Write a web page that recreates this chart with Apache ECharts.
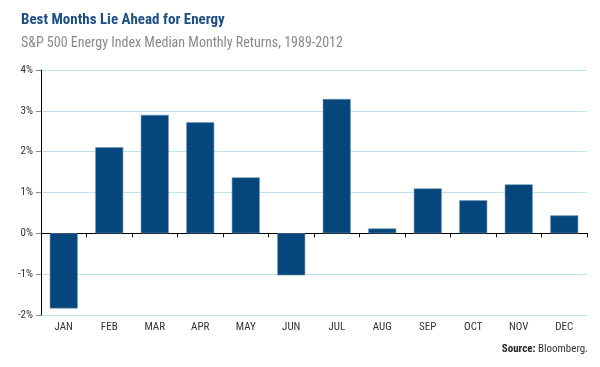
<!DOCTYPE html>
<html><head><meta charset="utf-8">
<script src="https://cdn.jsdelivr.net/npm/echarts@6/dist/echarts.min.js"></script>
<style>html,body{margin:0;padding:0;background:#fff}#c{width:600px;height:367px}</style>
</head><body><div id="c"></div>
<script>
const categories = ['JAN','FEB','MAR','APR','MAY','JUN','JUL','AUG','SEP','OCT','NOV','DEC'];
const values = [-1.84, 2.11, 2.9, 2.72, 1.37, -1.03, 3.29, 0.12, 1.1, 0.81, 1.2, 0.44];
const yTicks = {min: -2, max: 4, interval: 1};
const FONT = '"Liberation Sans Narrow","Roboto Condensed","Liberation Sans",Arial,sans-serif';
const chart = echarts.init(document.getElementById('c'));
chart.setOption({
  animation: false,
  textStyle: {fontFamily: FONT},
  title: [
    {text: 'Best Months Lie Ahead for Energy', left: 16, top: 8,
     textStyle: {fontSize: 15, fontWeight: 'bold', color: '#1b4f86', fontFamily: FONT}},
    {text: 'S&P 500 Energy Index Median Monthly Returns, 1989-2012', left: 16, top: 31,
     textStyle: {fontSize: 14, fontWeight: 'normal', color: '#8a8a8a', fontFamily: FONT}}
  ],
  grid: {left: 41, right: 13, top: 70, bottom: 52, containLabel: false},
  xAxis: [
    {type: 'category', data: categories, position: 'bottom',
     axisLine: {onZero: true, lineStyle: {color: '#000', width: 1}},
     axisTick: {show: true, length: 4, lineStyle: {color: '#000'}},
     axisLabel: {show: false}, splitLine: {show: false}},
    {type: 'category', data: categories, position: 'bottom',
     axisLine: {show: false, onZero: false}, axisTick: {show: false},
     axisLabel: {show: true, color: '#333', fontSize: 11, margin: 7, fontFamily: FONT},
     splitLine: {show: false}}
  ],
  yAxis: {
    type: 'value', min: yTicks.min, max: yTicks.max, interval: yTicks.interval,
    axisLine: {show: true, lineStyle: {color: '#000'}},
    axisTick: {show: true, length: 5, lineStyle: {color: '#888'}},
    axisLabel: {formatter: '{value}%', color: '#333', fontSize: 11, margin: 8, fontFamily: FONT},
    splitLine: {show: true, lineStyle: {color: '#bfe3ec', width: 1}}
  },
  series: [{
    type: 'bar', xAxisIndex: 0, data: values, barWidth: 28,
    itemStyle: {color: '#05477d', borderColor: '#6f93b3', borderWidth: 0.6}
  }],
  graphic: [{
    type: 'text', right: 12, top: 344,
    style: {
      text: '{b|Source:} Bloomberg.',
      rich: {b: {fontWeight: 'bold', fontSize: 11, fill: '#222', fontFamily: FONT}},
      fontSize: 11, fill: '#333', fontFamily: FONT
    }
  }]
});
</script></body></html>
